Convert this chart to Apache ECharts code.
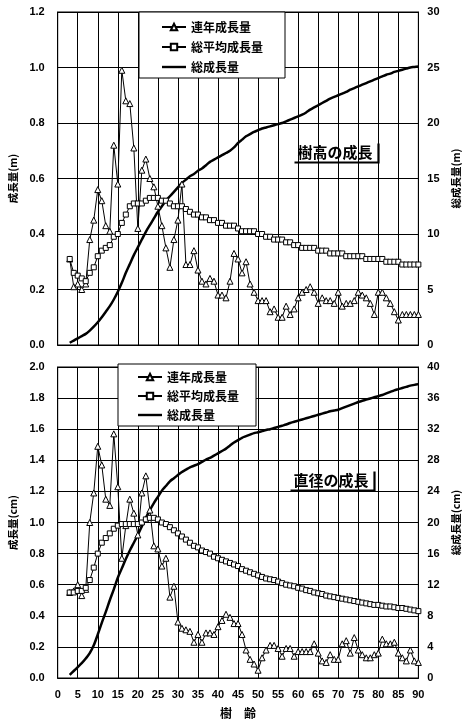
<!DOCTYPE html>
<html>
<head>
<meta charset="utf-8">
<script src="https://cdn.jsdelivr.net/npm/echarts@6/dist/echarts.min.js"></script>
<style>
  html, body { margin: 0; padding: 0; background: #fff; }
  #main { width: 469px; height: 721px; }
</style>
</head>
<body>
<div id="main"></div>
<script>
// 樹齢 (years)
var ages = [];
for (var a = 3; a <= 90; a++) ages.push(a);

var seriesNames = ['連年成長量', '総平均成長量', '総成長量'];
var xTicks = [0, 5, 10, 15, 20, 25, 30, 35, 40, 45, 50, 55, 60, 65, 70, 75, 80, 85, 90];

// 樹高 (m)
var htAnnual = [0.31, 0.21, 0.22, 0.20, 0.22, 0.38, 0.45, 0.56, 0.52, 0.43,
  0.41, 0.72, 0.58, 0.99, 0.88, 0.87, 0.71, 0.42, 0.63, 0.67,
  0.60, 0.57, 0.50, 0.43, 0.35, 0.28, 0.38, 0.45, 0.58, 0.29,
  0.29, 0.34, 0.27, 0.23, 0.22, 0.24, 0.23, 0.18, 0.18, 0.17,
  0.23, 0.33, 0.31, 0.26, 0.30, 0.22, 0.19, 0.16, 0.16, 0.16,
  0.12, 0.13, 0.10, 0.10, 0.14, 0.11, 0.13, 0.17, 0.19, 0.20,
  0.21, 0.19, 0.15, 0.17, 0.16, 0.16, 0.15, 0.19, 0.14, 0.15,
  0.15, 0.16, 0.19, 0.18, 0.17, 0.15, 0.11, 0.19, 0.19, 0.17,
  0.15, 0.12, 0.09, 0.11, 0.11, 0.11, 0.11, 0.11];
var htMean = [0.31, 0.26, 0.25, 0.24, 0.23, 0.26, 0.28, 0.32, 0.34, 0.35,
  0.36, 0.39, 0.40, 0.44, 0.47, 0.50, 0.51, 0.51, 0.51, 0.52,
  0.53, 0.53, 0.53, 0.52, 0.52, 0.51, 0.50, 0.50, 0.50, 0.49,
  0.48, 0.47, 0.47, 0.46, 0.46, 0.45, 0.45, 0.44, 0.44, 0.43,
  0.43, 0.43, 0.42, 0.41, 0.41, 0.41, 0.41, 0.40, 0.40, 0.39,
  0.39, 0.38, 0.38, 0.38, 0.37, 0.37, 0.36, 0.36, 0.35, 0.35,
  0.35, 0.35, 0.34, 0.34, 0.34, 0.33, 0.33, 0.33, 0.33, 0.32,
  0.32, 0.32, 0.32, 0.32, 0.31, 0.31, 0.31, 0.31, 0.31, 0.30,
  0.30, 0.30, 0.30, 0.29, 0.29, 0.29, 0.29, 0.29];
var htTotal = [0.2, 0.4, 0.6, 0.8, 1.0, 1.3, 1.65, 2.05, 2.5, 3.0,
  3.5, 4.1, 4.8, 5.6, 6.5, 7.3, 8.1, 8.8, 9.5, 10.2,
  10.8, 11.4, 12.0, 12.5, 13.0, 13.4, 13.8, 14.2, 14.6, 14.9,
  15.2, 15.4, 15.7, 15.9, 16.2, 16.5, 16.7, 16.9, 17.1, 17.3,
  17.5, 17.8, 18.2, 18.5, 18.8, 19.0, 19.2, 19.35, 19.5, 19.6,
  19.7, 19.8, 19.9, 20.0, 20.15, 20.3, 20.45, 20.6, 20.75, 20.95,
  21.2, 21.4, 21.6, 21.8, 22.0, 22.2, 22.35, 22.5, 22.65, 22.8,
  23.0, 23.15, 23.3, 23.45, 23.6, 23.75, 23.9, 24.05, 24.2, 24.35,
  24.45, 24.6, 24.7, 24.8, 24.9, 25.0, 25.05, 25.1];

// 直径 (cm)
var dmAnnual = [0.55, 0.56, 0.60, 0.53, 0.57, 1.00, 1.19, 1.49, 1.37, 1.15,
  1.11, 1.57, 1.23, 0.77, 0.98, 1.15, 1.06, 0.92, 1.19, 1.30,
  1.08, 0.85, 0.83, 0.72, 0.77, 0.52, 0.59, 0.36, 0.32, 0.31,
  0.30, 0.23, 0.28, 0.23, 0.29, 0.29, 0.28, 0.33, 0.37, 0.41,
  0.39, 0.35, 0.35, 0.28, 0.18, 0.12, 0.09, 0.05, 0.13, 0.18,
  0.21, 0.21, 0.19, 0.14, 0.19, 0.19, 0.14, 0.17, 0.17, 0.17,
  0.17, 0.22, 0.16, 0.11, 0.10, 0.15, 0.12, 0.12, 0.22, 0.24,
  0.16, 0.26, 0.18, 0.15, 0.13, 0.13, 0.15, 0.16, 0.25, 0.22,
  0.22, 0.23, 0.16, 0.13, 0.11, 0.18, 0.11, 0.10];
var dmMean = [0.55, 0.55, 0.56, 0.56, 0.58, 0.63, 0.71, 0.80, 0.87, 0.90,
  0.93, 0.96, 0.98, 0.99, 0.99, 0.99, 0.99, 0.99, 1.00, 1.02,
  1.03, 1.03, 1.02, 1.00, 0.99, 0.97, 0.95, 0.93, 0.91, 0.89,
  0.87, 0.85, 0.84, 0.82, 0.81, 0.80, 0.78, 0.77, 0.76, 0.75,
  0.74, 0.73, 0.72, 0.70, 0.69, 0.68, 0.67, 0.66, 0.65, 0.64,
  0.635, 0.63, 0.62, 0.61, 0.60, 0.595, 0.59, 0.58, 0.575, 0.565,
  0.56, 0.55, 0.545, 0.54, 0.53, 0.525, 0.52, 0.515, 0.51, 0.505,
  0.50, 0.495, 0.49, 0.485, 0.48, 0.475, 0.47, 0.47, 0.465, 0.46,
  0.46, 0.455, 0.45, 0.45, 0.445, 0.44, 0.435, 0.43];
var dmTotal = [0.4, 0.9, 1.4, 1.9, 2.5, 3.2, 4.2, 5.6, 7.1, 8.5,
  10.0, 11.4, 12.9, 14.1, 15.3, 16.4, 17.4, 18.4, 19.5, 20.6,
  21.6, 22.5, 23.3, 24.1, 24.7, 25.3, 25.7, 26.1, 26.5, 26.8,
  27.1, 27.3, 27.5, 27.8, 28.1, 28.3, 28.6, 28.9, 29.2, 29.5,
  29.9, 30.3, 30.6, 30.9, 31.1, 31.3, 31.5, 31.6, 31.75, 31.9,
  32.0, 32.15, 32.3, 32.45, 32.6, 32.8, 32.95, 33.1, 33.25, 33.4,
  33.55, 33.7, 33.85, 34.0, 34.15, 34.3, 34.4, 34.5, 34.7, 34.9,
  35.1, 35.3, 35.5, 35.65, 35.8, 35.95, 36.1, 36.25, 36.4, 36.6,
  36.8, 37.0, 37.15, 37.3, 37.45, 37.6, 37.7, 37.8];

function pairs(vals) {
  return ages.map(function (a, i) { return [a, vals[i]]; });
}

var FONT = '"Liberation Sans", "Noto Sans CJK JP", sans-serif';
var JP = '"Noto Sans CJK JP", sans-serif';

var myChart = echarts.init(document.getElementById('main'));

function xAxisOf(idx, showLabels) {
  return {
    type: 'value', gridIndex: idx, min: 0, max: 90, interval: 5,
    axisLine: { show: true, lineStyle: { color: '#000', width: 1 } },
    axisTick: { show: false },
    axisLabel: {
      show: showLabels, color: '#000', fontFamily: FONT, fontWeight: 'bold', fontSize: 11, margin: 11,
      formatter: function (v) { return xTicks.indexOf(v) >= 0 ? String(v) : ''; }
    },
    splitLine: { show: true, lineStyle: { color: '#000', width: 1 } },
    name: showLabels ? '樹　齢' : '', nameLocation: 'middle', nameGap: 29,
    nameTextStyle: { color: '#000', fontFamily: JP, fontWeight: 'bold', fontSize: 12 }
  };
}

function leftAxis(idx, max, unit, gap) {
  return {
    type: 'value', gridIndex: idx, min: 0, max: max, interval: 0.2, position: 'left',
    axisLine: { show: true, lineStyle: { color: '#000' } },
    axisTick: { show: false },
    axisLabel: { color: '#000', fontFamily: FONT, fontWeight: 'bold', fontSize: 11, margin: 13,
      formatter: function (v) { return v.toFixed(1); } },
    splitLine: { show: true, lineStyle: { color: '#000', width: 1 } },
    name: '成長量(' + unit + ')', nameLocation: 'middle', nameRotate: 90, nameGap: gap,
    nameTextStyle: { color: '#000', fontFamily: JP, fontWeight: 'bold', fontSize: 10.5 }
  };
}

function rightAxis(idx, max, step, unit, gap) {
  return {
    type: 'value', gridIndex: idx, min: 0, max: max, interval: step, position: 'right',
    axisLine: { show: true, lineStyle: { color: '#000' } },
    axisTick: { show: false },
    axisLabel: { color: '#000', fontFamily: FONT, fontWeight: 'bold', fontSize: 11, margin: 9 },
    splitLine: { show: false },
    name: '総成長量(' + unit + ')', nameLocation: 'middle', nameRotate: 90, nameGap: gap,
    nameTextStyle: { color: '#000', fontFamily: JP, fontWeight: 'bold', fontSize: 10.5 }
  };
}

function trio(xi, yl, yr, annual, mean, total) {
  return [
    { name: seriesNames[0], type: 'line', xAxisIndex: xi, yAxisIndex: yl, data: pairs(annual),
      symbol: 'triangle', symbolSize: 6, showAllSymbol: true,
      lineStyle: { color: '#000', width: 1 },
      itemStyle: { color: '#fff', borderColor: '#000', borderWidth: 1 } },
    { name: seriesNames[1], type: 'line', xAxisIndex: xi, yAxisIndex: yl, data: pairs(mean),
      symbol: 'rect', symbolSize: 5, showAllSymbol: true,
      lineStyle: { color: '#000', width: 1 },
      itemStyle: { color: '#fff', borderColor: '#000', borderWidth: 1 } },
    { name: seriesNames[2], type: 'line', xAxisIndex: xi, yAxisIndex: yr, data: pairs(total),
      symbol: 'none', smooth: 0.3,
      lineStyle: { color: '#000', width: 2.5 },
      itemStyle: { color: '#000' } }
  ];
}

function legendAt(left, top, pad, gap) {
  return {
    left: left, top: top, orient: 'vertical',
    data: [
      { name: seriesNames[0] },
      { name: seriesNames[1] },
      { name: seriesNames[2], icon: 'path://M0,0 L40,0 L40,4 L0,4 Z' }
    ],
    itemWidth: 24, itemHeight: 8, itemGap: gap,
    padding: pad,
    backgroundColor: '#fff', borderColor: '#000', borderWidth: 1,
    textStyle: { color: '#000', fontFamily: JP, fontWeight: 'bold', fontSize: 12, lineHeight: 14 },
    selectedMode: false
  };
}

function caption(x, y, text) {
  return {
    type: 'group', left: x, top: y, z: 100,
    children: [
      { type: 'rect', x: 0, y: 0, shape: { width: 84, height: 19 }, style: { fill: '#fff' } },
      { type: 'text', x: 3, y: 1, style: { text: text, fill: '#000', font: 'bold 15px ' + JP } },
      { type: 'polyline', shape: { points: [[84, 0], [84, 19], [0, 19]] },
        style: { stroke: '#000', lineWidth: 2.2, fill: null } }
    ]
  };
}

var option = {
  animation: false,
  backgroundColor: '#fff',
  grid: [
    { left: 57, top: 12, width: 364, height: 333, show: true, borderColor: '#000', borderWidth: 1 },
    { left: 57, top: 367, width: 364, height: 311, show: true, borderColor: '#000', borderWidth: 1 }
  ],
  xAxis: [xAxisOf(0, false), xAxisOf(1, true)],
  yAxis: [
    leftAxis(0, 1.2, 'm', 36),
    rightAxis(0, 30, 5, 'm', 27),
    leftAxis(1, 2.0, 'cm', 36),
    rightAxis(1, 40, 4, 'cm', 25)
  ],
  legend: [
    legendAt(139, 12, [8, 22, 4, 22], 6),
    legendAt(118, 364, [6, 17, 4, 19], 5)
  ],
  graphic: [
    caption(292, 141, '樹高の成長'),
    caption(288, 469, '直径の成長')
  ],
  series: trio(0, 0, 1, htAnnual, htMean, htTotal)
    .concat(trio(1, 2, 3, dmAnnual, dmMean, dmTotal))
};

myChart.setOption(option);
window.onresize = function () { myChart.resize(); };
</script>
</body>
</html>
